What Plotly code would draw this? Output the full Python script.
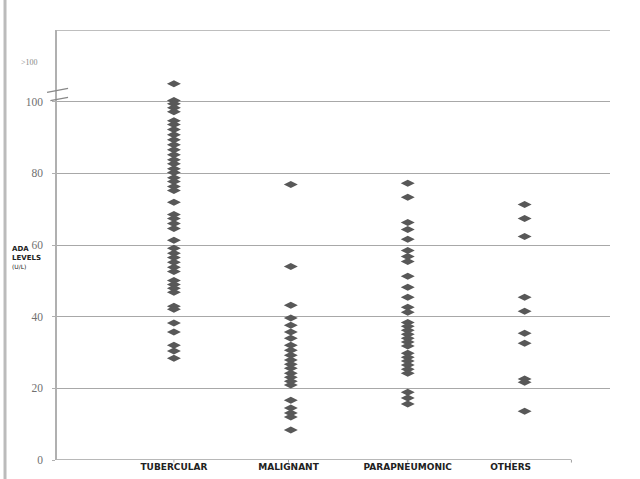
import plotly.graph_objects as go

categories = ["TUBERCULAR", "MALIGNANT", "PARAPNEUMONIC", "OTHERS"]

tubercular = [105, 100.3, 99.4, 98.3, 97.2, 94.7, 93.6, 92.2, 90.8, 89.4, 88.0, 86.6,
              85.2, 83.8, 82.7, 81.3, 80.2, 78.8, 77.7, 76.3, 75.2, 71.9, 68.5, 67.4,
              66.0, 64.6, 61.3, 59.1, 57.7, 56.5, 55.2, 53.8, 52.6, 50.1, 49.0, 47.9,
              46.8, 42.9, 42.1, 38.2, 35.7, 32.0, 30.4, 28.4]
malignant = [76.9, 54.0, 43.2, 39.6, 37.6, 35.7, 34.0, 32.0, 30.6, 29.2, 27.9, 26.7,
             25.6, 24.2, 23.1, 22.0, 20.9, 16.7, 14.5, 13.1, 12.0, 8.4]
parapneumonic = [77.2, 73.3, 66.3, 64.3, 61.6, 58.5, 56.8, 55.4, 51.3, 48.2, 45.4,
                 42.6, 41.2, 38.4, 37.3, 36.2, 35.1, 34.0, 32.9, 31.8, 29.8, 28.7,
                 27.6, 26.5, 25.3, 24.2, 18.9, 17.3, 15.6]
others = [71.3, 67.4, 62.4, 45.4, 41.5, 35.4, 32.6, 22.6, 21.7, 13.6]

series = [tubercular, malignant, parapneumonic, others]

y_ticks = [0, 20, 40, 60, 80, 100]
y_tick_labels = ["0", "20", "40", "60", "80", "100"]
x_tick_pos = [1, 1.98, 3, 3.88]

fig = go.Figure()
for i, vals in enumerate(series):
    fig.add_trace(go.Scatter(
        x=[i + 1] * len(vals), y=vals, mode="markers",
        marker=dict(symbol="diamond-wide", size=10, color="#585858",
                    line=dict(width=0)),
        showlegend=False, hoverinfo="y"))

fig.update_layout(
    width=640, height=479,
    margin=dict(l=57, r=30, t=30, b=19),
    paper_bgcolor="white", plot_bgcolor="white",
    xaxis=dict(range=[0, 4.73], tickvals=x_tick_pos,
               ticktext=["<b>%s</b>" % c for c in categories],
               showgrid=False, zeroline=False, showline=False, automargin=False,
               ticks="", tickfont=dict(family="DejaVu Sans", size=9, color="#222"),
               fixedrange=True),
    yaxis=dict(range=[0, 120], tickvals=y_ticks, ticktext=y_tick_labels,
               showgrid=True, gridcolor="#a8a8a8", gridwidth=1.3, automargin=False,
               zeroline=False, showline=True, linecolor="#b0b0b0", linewidth=1.5,
               ticks="outside", ticklen=3, tickcolor="#b0b0b0",
               ticklabelstandoff=7,
               tickfont=dict(family="Liberation Serif", size=11.5, color="#707070"),
               fixedrange=True),
)

shapes = []
# top gridline
shapes.append(dict(type="line", xref="paper", yref="y", x0=0, x1=1, y0=120, y1=120,
                   line=dict(color="#a8a8a8", width=1.3)))
# bottom axis line
shapes.append(dict(type="line", xref="x", yref="y", x0=0, x1=4.4, y0=0, y1=0,
                   line=dict(color="#a0a0a0", width=1.5)))
# bottom ticks
for tp in x_tick_pos + [4.4]:
    shapes.append(dict(type="line", xref="x", yref="paper", x0=tp, x1=tp, y0=0, y1=-0.006,
                       line=dict(color="#a0a0a0", width=1)))
# axis break marks
shapes.append(dict(type="line", xref="paper", yref="y", x0=-0.018, x1=0.02,
                   y0=102.6, y1=103.7, line=dict(color="#888", width=1.2)))
shapes.append(dict(type="line", xref="paper", yref="y", x0=-0.012, x1=0.02,
                   y0=100.3, y1=101.2, line=dict(color="#888", width=1.2)))
# scan edge line on left
shapes.append(dict(type="line", xref="paper", yref="paper", x0=-0.094, x1=-0.094,
                   y0=-0.05, y1=1.08, line=dict(color="#bbbbbb", width=3)))
fig.update_layout(shapes=shapes)

fig.add_annotation(xref="paper", yref="y", x=-0.03, y=111, text="&gt;100",
                   showarrow=False, xanchor="right",
                   font=dict(family="Liberation Serif", size=8, color="#888"))
fig.add_annotation(xref="paper", yref="y", x=-0.085, y=56.5,
                   text="<b>ADA<br>LEVELS</b><br><span style='font-size:6px'>(U/L)</span>",
                   showarrow=False, xanchor="left", align="left",
                   font=dict(family="DejaVu Sans", size=7, color="#222"))

fig.write_html("out.html", config={"displayModeBar": False},
               post_script="document.body.style.margin='0';document.body.style.overflow='hidden';")
